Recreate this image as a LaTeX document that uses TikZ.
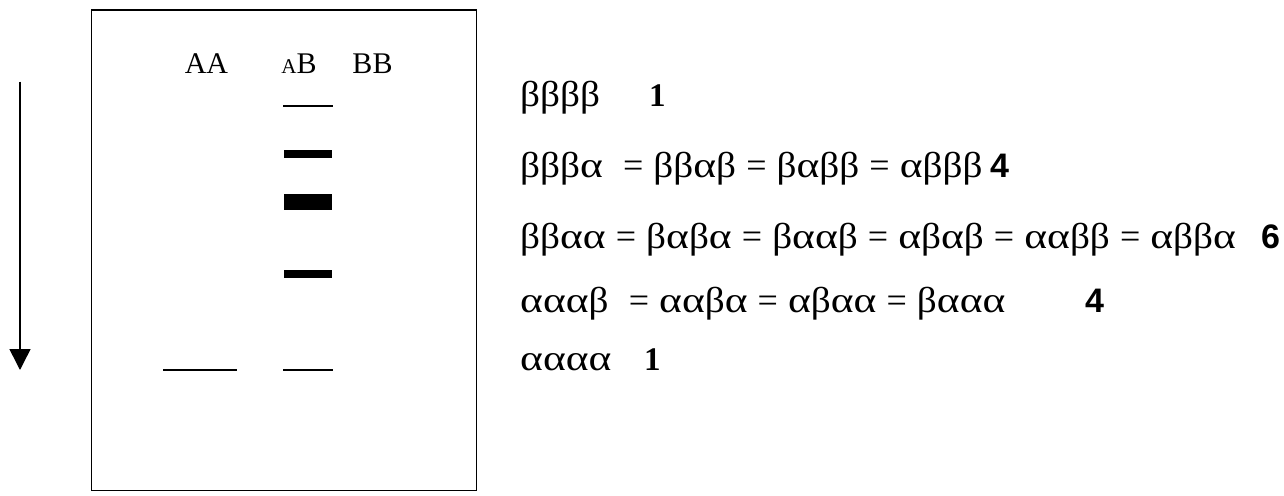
\documentclass[tikz,border=0pt]{standalone}
\usepackage{fontspec}
\usepackage{graphicx}
\setmainfont{Liberation Serif}
\newfontfamily\numsans{Liberation Sans}
\usetikzlibrary{arrows.meta}
% widened Greek letters and spaced equals sign for the subunit strings
\newcommand\ga{\scalebox{1.21}[1]{α}}
\newcommand\gb{\scalebox{1.09}[1]{β}}
\newcommand\eqs{\hspace{0.28em}=\hspace{0.28em}}

\begin{document}
\begin{tikzpicture}[x=1pt,y=-1pt,
  lanelabel/.style={anchor=base,inner sep=0pt,font=\fontsize{30}{36}\selectfont},
  combo/.style={anchor=base west,inner sep=0pt,font=\fontsize{36}{42}\selectfont},
  countser/.style={anchor=base west,inner sep=0pt,font=\fontsize{33}{39}\selectfont\bfseries},
  countsans/.style={anchor=base west,inner sep=0pt,font=\fontsize{34}{40}\numsans\bfseries},
  thinband/.style={line width=1.5pt},
  thickband/.style={fill=black,draw=none},
  gelframe/.style={line width=1.5pt},
  runarrow/.style={line width=1.5pt,-{Triangle[width=21pt,length=21pt]}},
]
\useasboundingbox (0,0) rectangle (1284,495);

% gel outline
\draw[gelframe] (91.7,10) rectangle (476.7,490.5);

% migration direction
\coordinate (arrtop) at (20,81.7);
\coordinate (arrtip) at (20,370);
\draw[runarrow] (arrtop) -- (arrtip);

% lane labels
\node[lanelabel] (laneAA) at (206.5,74) {AA};
\node[lanelabel] (laneAB) at (299,74) {{\fontsize{21}{24}\selectfont A}B};
\node[lanelabel] (laneBB) at (372.5,74) {BB};

% AB lane bands
\draw[thinband] (283.3,106) -- (332.7,106);
\fill[thickband] (284,150) rectangle (332.3,158);
\fill[thickband] (284,194.3) rectangle (332.3,210);
\fill[thickband] (284,270) rectangle (332.3,278);
\draw[thinband] (283.3,370) -- (332.7,370);
% AA lane band
\draw[thinband] (163.3,370) -- (236.7,370);

% tetramer combinations and their counts
\node[combo] (r1) at (520,106) {\gb\gb\gb\gb};
\node[countser] (c1) at (649,106) {1};
\node[combo] (r2) at (520,177) {\gb\gb\gb\ga\hspace{0.28em}\eqs\gb\gb\ga\gb\eqs\gb\ga\gb\gb\eqs\ga\gb\gb\gb};
\node[countsans] (c2) at (990,177) {4};
\node[combo] (r3) at (520,248) {\gb\gb\ga\ga\eqs\gb\ga\gb\ga\eqs\gb\ga\ga\gb\eqs\ga\gb\ga\gb\eqs\ga\ga\gb\gb\eqs\ga\gb\gb\ga};
\node[countsans] (c3) at (1261,248) {6};
\node[combo] (r4) at (520,312) {\ga\ga\ga\gb\hspace{0.28em}\eqs\ga\ga\gb\ga\eqs\ga\gb\ga\ga\eqs\gb\ga\ga\ga};
\node[countsans] (c4) at (1085,312) {4};
\node[combo] (r5) at (520,370) {\ga\ga\ga\ga};
\node[countser] (c5) at (644,370) {1};
\end{tikzpicture}
\end{document}
